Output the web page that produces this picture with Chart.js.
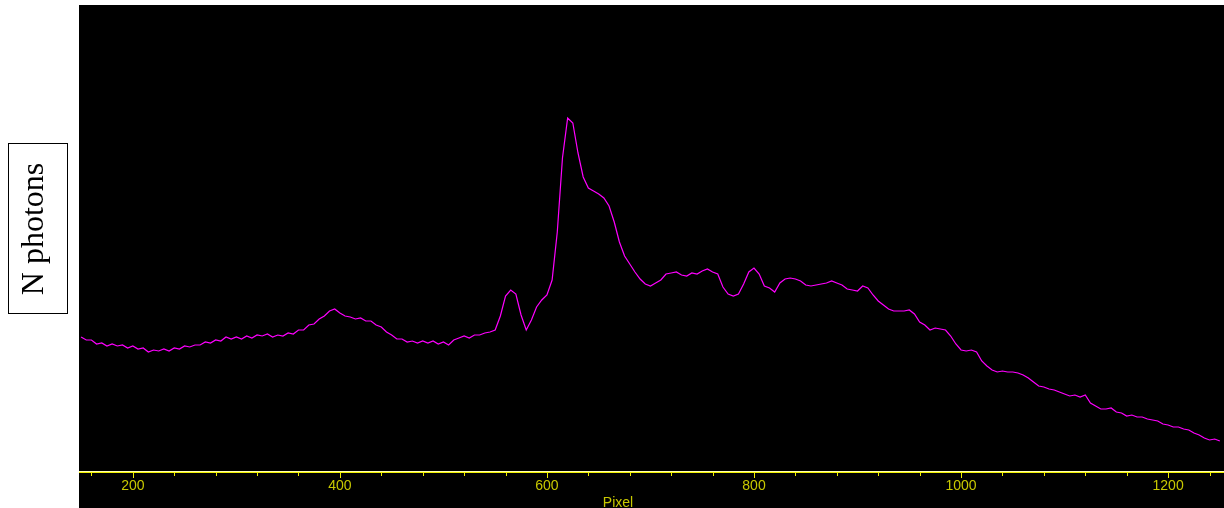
<!DOCTYPE html>
<html>
<head>
<meta charset="utf-8">
<title>Spectrum</title>
<script src="https://cdn.jsdelivr.net/npm/chart.js@4.4.1/dist/chart.umd.min.js"></script>
<style>
  html, body { margin: 0; padding: 0; background: #fff; }
  #wrap { width: 1224px; height: 508px; }
</style>
</head>
<body>
<div id="wrap"><canvas id="spectrum" width="1224" height="508"></canvas></div>
<script>
// detector pixels sampled every 5, starting at 150
const pixelStart = 150;
const pixelStep = 5;
const photonCounts = [
  134, 131, 131, 127, 128, 125, 127, 125, 126, 123,
  125, 122, 123, 119, 121, 120, 122, 120, 123, 122,
  125, 124, 126, 126, 129, 128, 131, 130, 134, 132,
  134, 132, 135, 133, 136, 135, 137, 134, 136, 135,
  138, 137, 141, 141, 146, 147, 152, 155, 160, 162,
  158, 155, 154, 152, 153, 150, 150, 146, 144, 139,
  136, 132, 132, 129, 130, 128, 130, 128, 130, 127,
  129, 126, 131, 133, 135, 133, 136, 136, 138, 139,
  141, 155, 175, 181, 177, 156, 141, 151, 164, 171,
  176, 191, 239, 313, 353, 348, 318, 294, 283, 280,
  277, 273, 265, 249, 229, 215, 207, 199, 192, 187,
  185, 188, 191, 197, 198, 199, 196, 195, 198, 197,
  200, 202, 199, 197, 184, 177, 175, 177, 187, 199,
  203, 197, 185, 183, 179, 188, 192, 193, 192, 190,
  186, 185, 186, 187, 188, 190, 188, 186, 182, 181,
  180, 185, 183, 176, 170, 166, 162, 160, 160, 160,
  161, 157, 149, 146, 141, 143, 142, 141, 135, 127,
  121, 120, 121, 119, 110, 105, 101, 99, 100, 99,
  99, 98, 96, 93, 89, 85, 84, 82, 81, 79,
  77, 75, 76, 74, 76, 68, 65, 62, 62, 63,
  59, 58, 55, 56, 54, 54, 52, 51, 50, 47,
  46, 44, 44, 42, 41, 38, 36, 33, 31, 32,
  30
];
const xMin = 148;
const xMax = 1254;
const yMax = 466;
const minorTickStep = 40;
const majorTickStep = 200;
const xTitle = 'Pixel';
const yTitle = 'N photons';

const points = photonCounts.map((c, i) => ({ x: pixelStart + i * pixelStep, y: c }));

const axisYellow = '#f0f000';
const labelYellow = '#c8c800';

// black plot panel, yellow axis with minor/major ticks, boxed y label
const spectrumFrame = {
  id: 'spectrumFrame',
  beforeDraw(chart) {
    const { ctx, chartArea } = chart;
    ctx.save();
    ctx.fillStyle = '#000';
    ctx.fillRect(chartArea.left, chartArea.top, chart.width - chartArea.left, chart.height - chartArea.top);
    ctx.restore();
  },
  afterDraw(chart) {
    const { ctx, chartArea } = chart;
    const xs = chart.scales.x;
    const w = chart.width - chartArea.left;
    ctx.save();
    ctx.fillStyle = '#ffffb0';
    ctx.fillRect(chartArea.left, chartArea.bottom, w, 1);
    ctx.fillStyle = axisYellow;
    ctx.fillRect(chartArea.left, chartArea.bottom + 1, w, 1);
    xs.ticks.forEach(t => {
      if (t.value % minorTickStep !== 0) return;
      const px = Math.round(xs.getPixelForValue(t.value));
      const len = t.value % majorTickStep === 0 ? 5 : 3;
      ctx.fillRect(px, chartArea.bottom + 2, 1, len);
    });

    ctx.fillStyle = labelYellow;
    ctx.font = '14px "Liberation Sans", Arial, sans-serif';
    ctx.textAlign = 'center';
    ctx.textBaseline = 'middle';
    ctx.fillText(xTitle, chartArea.left + 539, 503);

    ctx.strokeStyle = '#000';
    ctx.lineWidth = 1;
    ctx.strokeRect(8.5, 143.5, 59, 170);
    ctx.translate(43, 229);
    ctx.rotate(-Math.PI / 2);
    ctx.fillStyle = '#000';
    ctx.font = '32px "Liberation Serif", "Times New Roman", serif';
    ctx.textAlign = 'center';
    ctx.textBaseline = 'alphabetic';
    ctx.fillText(yTitle, 0, 0);
    ctx.restore();
  }
};

new Chart(document.getElementById('spectrum'), {
  type: 'line',
  data: {
    datasets: [{
      data: points,
      borderColor: '#ff00ff',
      borderWidth: 1.2,
      pointRadius: 0,
      tension: 0,
      fill: false
    }]
  },
  options: {
    responsive: false,
    animation: false,
    devicePixelRatio: 1,
    layout: { padding: { left: 79, top: 5, right: 0, bottom: 0 } },
    plugins: {
      legend: { display: false },
      tooltip: { enabled: false }
    },
    scales: {
      x: {
        type: 'linear',
        min: xMin,
        max: xMax,
        afterFit(scale) { scale.height = 37; },
        grid: { display: false, drawTicks: false },
        border: { display: false },
        ticks: {
          stepSize: minorTickStep,
          includeBounds: false,
          autoSkip: false,
          maxRotation: 0,
          padding: 7,
          color: labelYellow,
          font: { family: '"Liberation Sans", Arial, sans-serif', size: 14 },
          callback: v => (v % majorTickStep === 0 ? String(v) : '')
        }
      },
      y: {
        display: false,
        min: 0,
        max: yMax
      }
    }
  },
  plugins: [spectrumFrame]
});
</script>
</body>
</html>
